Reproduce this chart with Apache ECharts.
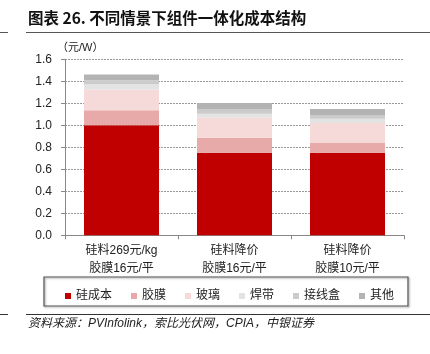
<!DOCTYPE html>
<html>
<head>
<meta charset="utf-8">
<script src="https://cdn.jsdelivr.net/npm/echarts@6/dist/echarts.min.js"></script>
<style>
  html, body { margin: 0; padding: 0; background: #fff; }
  #chart { width: 430px; height: 354px; }
</style>
</head>
<body>
<div id="chart"></div>
<script>
var categories = ['硅料269元/kg\n胶膜16元/平', '硅料降价\n胶膜16元/平', '硅料降价\n胶膜10元/平'];
var siliconCost = [1.0, 0.75, 0.75];
var filmCost = [0.136, 0.136, 0.09];
var glassCost = [0.19, 0.185, 0.18];
var ribbonCost = [0.048, 0.035, 0.04];
var jboxCost = [0.036, 0.042, 0.034];
var otherCost = [0.052, 0.055, 0.055];
var yTicks = [0, 0.2, 0.4, 0.6, 0.8, 1.0, 1.2, 1.4, 1.6];

var chart = echarts.init(document.getElementById('chart'));
var cjk = '"Liberation Sans", "Noto Sans CJK SC", sans-serif';

function bar(name, data, color) {
    return {
        name: name,
        type: 'bar',
        stack: 'cost',
        barWidth: 75,
        data: data,
        itemStyle: { color: color }
    };
}

var option = {
    animation: false,
    textStyle: { fontFamily: cjk },
    grid: { left: 65, right: 26, top: 59.3, bottom: 118.7 },
    xAxis: {
        type: 'category',
        data: categories,
        axisLine: { lineStyle: { color: '#888' } },
        axisTick: { show: true, length: 4, lineStyle: { color: '#888' } },
        axisLabel: { color: '#222', fontSize: 12, lineHeight: 18, margin: 6 }
    },
    yAxis: {
        type: 'value',
        min: yTicks[0],
        max: yTicks[yTicks.length - 1],
        interval: 0.2,
        name: '（元/W）',
        nameLocation: 'end',
        nameGap: 6,
        nameTextStyle: { color: '#222', fontSize: 11, align: 'left', padding: [0, 0, 0, -8] },
        axisLine: { show: true, lineStyle: { color: '#888' } },
        axisTick: { show: true, length: 4, lineStyle: { color: '#888' } },
        axisLabel: {
            color: '#222', fontSize: 12, margin: 13,
            formatter: function (v) { return v.toFixed(1); }
        },
        splitLine: { lineStyle: { color: '#999', type: [2, 1] } }
    },
    legend: {
        left: 60,
        top: 285,
        itemWidth: 6,
        itemHeight: 6,
        itemGap: 19,
        icon: 'rect',
        textStyle: { color: '#222', fontSize: 12 },
        data: ['硅成本', '胶膜', '玻璃', '焊带', '接线盒', '其他']
    },
    graphic: [
        { type: 'text', left: 28, top: 10, style: { text: '图表 26. 不同情景下组件一体化成本结构', font: 'bold 15.5px "Noto Sans CJK SC", sans-serif', fill: '#111' } },
        { type: 'line', shape: { x1: 0, y1: 32.5, x2: 8, y2: 32.5 }, style: { stroke: '#555', lineWidth: 1 } },
        { type: 'line', shape: { x1: 26, y1: 32.5, x2: 430, y2: 32.5 }, style: { stroke: '#555', lineWidth: 1 } },
        { type: 'rect', shape: { x: 44, y: 277, width: 364, height: 29 }, style: { fill: 'none', stroke: '#555', lineWidth: 1.2, shadowBlur: 2, shadowOffsetX: 1, shadowOffsetY: 1, shadowColor: 'rgba(0,0,0,0.4)' } },
        { type: 'line', shape: { x1: 0, y1: 314.5, x2: 8, y2: 314.5 }, style: { stroke: '#333', lineWidth: 1 } },
        { type: 'line', shape: { x1: 26, y1: 314.5, x2: 430, y2: 314.5 }, style: { stroke: '#333', lineWidth: 1 } },
        { type: 'text', left: 28, top: 318, style: { text: '资料来源：PVInfolink，索比光伏网，CPIA，中银证券', font: 'italic 12px "Liberation Sans", "Noto Sans CJK SC", sans-serif', fill: '#222' } }
    ],
    series: [
        bar('硅成本', siliconCost, '#c00000'),
        bar('胶膜', filmCost, '#e8a9a9'),
        bar('玻璃', glassCost, '#f6d9d9'),
        bar('焊带', ribbonCost, '#e3e3e3'),
        bar('接线盒', jboxCost, '#cbcbcb'),
        bar('其他', otherCost, '#b3b3b3')
    ]
};

chart.setOption(option);
</script>
</body>
</html>
